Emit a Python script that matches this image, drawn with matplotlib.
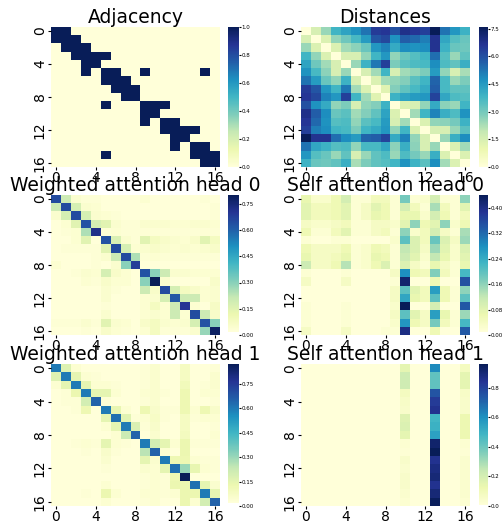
import numpy as np
import matplotlib
matplotlib.use('Agg')
import matplotlib.pyplot as plt
import seaborn as sns

n_atoms = 17
tick_labels = [0, 4, 8, 12, 16]

# bonds (diagonal is 1 as well)
bonds = [(0, 1), (1, 2), (2, 3), (3, 4), (3, 5), (5, 6), (5, 9), (5, 15), (6, 7),
         (7, 8), (9, 10), (9, 11), (11, 12), (12, 13), (12, 14), (14, 15), (15, 16)]

distances = [
    [0.0, 1.5, 2.5, 3.8, 4.3, 4.7, 5.3, 6.5, 6.6, 6.0, 6.8, 6.6, 6.4, 7.6, 5.3, 4.6, 3.9],
    [1.5, 0.0, 1.4, 2.6, 3.1, 3.7, 4.5, 5.9, 6.2, 4.7, 5.7, 5.5, 5.1, 6.7, 4.2, 3.5, 3.2],
    [2.5, 1.4, 0.0, 1.4, 2.4, 2.7, 3.2, 4.6, 5.0, 4.1, 4.8, 4.7, 4.8, 6.7, 3.9, 3.2, 3.1],
    [3.8, 2.6, 1.4, 0.0, 1.5, 1.5, 2.6, 3.8, 4.6, 2.6, 3.2, 3.5, 3.8, 5.4, 3.5, 2.5, 3.3],
    [4.3, 3.1, 2.4, 1.5, 0.0, 2.5, 3.9, 5.2, 6.4, 2.9, 3.4, 3.6, 3.7, 4.8, 3.6, 3.3, 4.0],
    [4.7, 3.7, 2.7, 1.5, 2.5, 0.0, 1.5, 2.4, 3.8, 1.5, 2.4, 2.6, 2.9, 4.5, 2.6, 1.5, 2.3],
    [5.3, 4.5, 3.2, 2.6, 3.9, 1.5, 0.0, 1.4, 2.4, 2.6, 2.8, 3.4, 3.8, 5.6, 3.7, 2.5, 2.9],
    [6.5, 5.9, 4.6, 3.8, 5.2, 2.4, 1.4, 0.0, 1.3, 2.8, 3.3, 3.7, 4.1, 5.7, 3.7, 3.3, 3.3],
    [6.6, 6.2, 5.0, 4.6, 6.4, 3.8, 2.4, 1.3, 0.0, 3.9, 4.3, 4.5, 4.6, 6.3, 4.2, 3.6, 3.5],
    [6.0, 4.7, 4.1, 2.6, 2.9, 1.5, 2.6, 2.8, 3.9, 0.0, 1.4, 1.5, 2.6, 4.1, 2.7, 2.5, 3.8],
    [6.8, 5.7, 4.8, 3.2, 3.4, 2.4, 2.8, 3.3, 4.3, 1.4, 0.0, 2.4, 3.8, 5.0, 4.0, 3.6, 4.7],
    [6.6, 5.5, 4.7, 3.5, 3.6, 2.6, 3.4, 3.7, 4.5, 1.5, 2.4, 0.0, 1.4, 2.6, 2.7, 3.0, 3.9],
    [6.4, 5.1, 4.8, 3.8, 3.7, 2.9, 3.8, 4.1, 4.6, 2.6, 3.8, 1.4, 0.0, 1.5, 1.5, 2.5, 3.4],
    [7.6, 6.7, 6.7, 5.4, 4.8, 4.5, 5.6, 5.7, 6.3, 4.1, 5.0, 2.6, 1.5, 0.0, 2.5, 4.0, 4.8],
    [5.3, 4.2, 3.9, 3.5, 3.6, 2.6, 3.7, 3.7, 4.2, 2.7, 4.0, 2.7, 1.5, 2.5, 0.0, 1.4, 2.4],
    [4.6, 3.5, 3.2, 2.5, 3.3, 1.5, 2.5, 3.3, 3.6, 2.5, 3.6, 3.0, 2.5, 4.0, 1.4, 0.0, 1.4],
    [3.9, 3.2, 3.1, 3.3, 4.0, 2.3, 2.9, 3.3, 3.5, 3.8, 4.7, 3.9, 3.4, 4.8, 2.4, 1.4, 0.0],
]

weighted_head0 = [
    [.65, .20, .05, .03, .03, .02, .02, .02, .02, .04, .02, .02, .02, .02, .02, .03, .02],
    [.20, .65, .18, .05, .04, .02, .02, .02, .02, .02, .02, .02, .02, .02, .02, .02, .03],
    [.05, .18, .65, .18, .05, .04, .03, .02, .02, .02, .02, .02, .02, .02, .02, .02, .03],
    [.02, .04, .15, .63, .18, .15, .05, .03, .03, .05, .05, .05, .04, .04, .05, .05, .04],
    [.02, .03, .04, .25, .72, .03, .04, .03, .03, .03, .03, .03, .03, .03, .03, .03, .03],
    [.02, .02, .04, .15, .02, .63, .17, .05, .03, .15, .08, .06, .05, .04, .06, .15, .08],
    [.02, .03, .03, .03, .03, .15, .65, .18, .04, .05, .06, .05, .04, .05, .04, .05, .06],
    [.02, .02, .02, .02, .03, .05, .20, .65, .25, .03, .04, .03, .03, .03, .03, .03, .03],
    [.04, .02, .02, .02, .03, .02, .05, .30, .68, .02, .02, .02, .02, .02, .02, .02, .02],
    [.02, .02, .03, .05, .04, .18, .06, .04, .02, .63, .30, .20, .05, .05, .04, .04, .04],
    [.02, .02, .02, .04, .03, .06, .04, .04, .02, .30, .80, .05, .02, .02, .02, .02, .06],
    [.02, .02, .02, .02, .02, .05, .03, .02, .02, .20, .06, .65, .18, .08, .06, .04, .05],
    [.02, .02, .02, .02, .02, .05, .02, .02, .02, .04, .05, .18, .62, .20, .20, .04, .05],
    [.02, .02, .02, .02, .02, .03, .02, .02, .02, .04, .08, .04, .20, .70, .04, .02, .07],
    [.02, .02, .02, .02, .02, .05, .02, .02, .02, .04, .05, .04, .20, .04, .65, .20, .06],
    [.03, .03, .03, .05, .03, .15, .05, .04, .02, .06, .08, .05, .04, .05, .18, .63, .30],
    [.02, .02, .02, .03, .02, .06, .04, .03, .02, .04, .08, .03, .03, .03, .05, .28, .78],
]

self_head0 = [
    [.07, .03, .03, .06, .10, .02, .02, .05, .05, .02, .18, .02, .03, .10, .02, .02, .16],
    [.08, .05, .05, .06, .08, .02, .04, .08, .06, .02, .10, .05, .02, .14, .05, .02, .08],
    [.08, .05, .05, .06, .08, .02, .04, .07, .06, .02, .07, .07, .03, .10, .06, .02, .05],
    [.04, .03, .03, .04, .05, .02, .02, .04, .04, .03, .08, .16, .06, .08, .16, .03, .06],
    [.06, .02, .02, .05, .08, .02, .02, .04, .05, .02, .16, .03, .05, .10, .04, .02, .14],
    [.02, .01, .01, .02, .02, .01, .01, .01, .01, .03, .20, .09, .05, .19, .09, .04, .15],
    [.06, .04, .04, .04, .06, .02, .03, .06, .05, .02, .12, .09, .04, .15, .08, .03, .09],
    [.07, .04, .04, .05, .07, .02, .03, .07, .06, .02, .11, .08, .03, .12, .07, .03, .08],
    [.11, .04, .04, .06, .13, .02, .03, .06, .09, .02, .09, .04, .02, .07, .04, .02, .07],
    [.02, .01, .01, .01, .02, .01, .01, .01, .01, .04, .28, .06, .05, .17, .05, .02, .22],
    [.04, .01, .01, .01, .04, .01, .01, .01, .01, .02, .42, .01, .01, .06, .01, .01, .35],
    [.01, .01, .01, .01, .01, .01, .01, .01, .01, .04, .20, .08, .05, .26, .06, .02, .16],
    [.01, .01, .01, .01, .01, .01, .01, .01, .01, .04, .25, .07, .05, .20, .06, .02, .20],
    [.02, .01, .01, .01, .02, .01, .01, .01, .01, .03, .44, .01, .01, .10, .01, .01, .34],
    [.02, .01, .01, .01, .02, .01, .01, .01, .01, .04, .20, .08, .04, .26, .07, .02, .15],
    [.02, .01, .01, .01, .02, .01, .01, .01, .01, .03, .27, .06, .04, .18, .05, .02, .22],
    [.04, .01, .01, .01, .04, .01, .01, .01, .02, .02, .40, .01, .01, .06, .01, .01, .34],
]

weighted_head1 = [
    [.60, .17, .04, .02, .02, .02, .02, .02, .02, .03, .05, .02, .02, .08, .02, .02, .03],
    [.17, .60, .15, .04, .03, .02, .02, .02, .02, .03, .05, .02, .02, .08, .02, .02, .05],
    [.04, .15, .60, .15, .04, .04, .03, .02, .02, .03, .05, .02, .02, .10, .02, .03, .05],
    [.02, .03, .13, .60, .15, .15, .04, .02, .02, .04, .05, .03, .02, .12, .02, .04, .04],
    [.02, .03, .03, .20, .65, .03, .02, .02, .02, .03, .05, .02, .02, .12, .02, .02, .03],
    [.02, .02, .03, .12, .02, .60, .14, .04, .02, .12, .06, .03, .03, .12, .04, .12, .06],
    [.02, .02, .02, .02, .02, .15, .62, .16, .03, .04, .07, .03, .02, .08, .03, .04, .04],
    [.02, .02, .02, .02, .02, .04, .15, .60, .18, .03, .06, .02, .02, .08, .02, .02, .03],
    [.02, .02, .02, .02, .02, .02, .04, .22, .65, .02, .05, .02, .02, .09, .02, .02, .04],
    [.02, .02, .03, .04, .03, .15, .04, .03, .02, .60, .20, .15, .04, .13, .03, .03, .03],
    [.02, .02, .02, .03, .02, .06, .03, .02, .02, .25, .65, .04, .02, .13, .02, .02, .02],
    [.02, .02, .02, .02, .02, .05, .02, .02, .02, .15, .05, .60, .12, .12, .04, .03, .03],
    [.02, .02, .02, .02, .02, .03, .02, .02, .02, .05, .04, .15, .62, .30, .14, .04, .03],
    [.02, .02, .02, .02, .02, .02, .02, .02, .02, .03, .04, .03, .12, .87, .02, .02, .02],
    [.02, .02, .02, .02, .02, .04, .02, .02, .02, .03, .04, .03, .13, .13, .62, .15, .05],
    [.02, .02, .02, .03, .02, .13, .04, .02, .02, .04, .04, .03, .04, .13, .13, .60, .15],
    [.02, .02, .02, .02, .02, .04, .02, .02, .02, .03, .04, .02, .02, .13, .04, .20, .65],
]

# head 1 self attention only lands on atoms 10, 13 and 16
self_head1_col10 = [.15, .22, .22, .08, .06, .05, .17, .18, .15, .03, .02, .05, .04, .05, .05, .04, .03]
self_head1_col13 = [.62, .42, .42, .75, .82, .85, .48, .50, .55, .92, .96, .85, .88, .90, .85, .90, .95]
self_head1_col16 = [.08, .15, .15, .06, .05, .05, .12, .12, .12, .03, .02, .04, .04, .04, .04, .04, .03]

adjacency = np.eye(n_atoms)
for i, j in bonds:
    adjacency[i, j] = 1
    adjacency[j, i] = 1

self_head1 = np.full((n_atoms, n_atoms), 0.004)
self_head1[:, 10] = self_head1_col10
self_head1[:, 13] = self_head1_col13
self_head1[:, 16] = self_head1_col16

panels = [
    ('Adjacency', adjacency, [0, .2, .4, .6, .8, 1.0], '%.1f'),
    ('Distances', np.array(distances), [0, 1.5, 3.0, 4.5, 6.0, 7.5], '%.1f'),
    ('Weighted attention head 0', np.array(weighted_head0), [0, .15, .30, .45, .60, .75], '%.2f'),
    ('Self attention head 0', np.array(self_head0), [0, .08, .16, .24, .32, .40], '%.2f'),
    ('Weighted attention head 1', np.array(weighted_head1), [0, .15, .30, .45, .60, .75], '%.2f'),
    ('Self attention head 1', self_head1, [0, .2, .4, .6, .8], '%.1f'),
]

W, H = 503, 523
fig = plt.figure(figsize=(W / 100, H / 100), dpi=100)

col_x = [51, 301]
cbar_x = [228, 479]
cbar_w = [11, 9]
row_y = [(27, 167), (195, 335), (364, 506)]

for k, (title, mat, cticks, fmt) in enumerate(panels):
    r, c = divmod(k, 2)
    top, bot = row_y[r]
    ax = fig.add_axes([col_x[c] / W, 1 - bot / H, 169 / W, (bot - top) / H])
    cax = fig.add_axes([cbar_x[c] / W, 1 - bot / H, cbar_w[c] / W, (bot - top) / H])
    sns.heatmap(mat, ax=ax, cbar_ax=cax, cmap='YlGnBu', xticklabels=4, yticklabels=4)
    ax.set_xticklabels(tick_labels, rotation=0, fontsize=10)
    ax.set_yticklabels(tick_labels, rotation=90, va='center', fontsize=10)
    ax.tick_params(axis='both', length=2, pad=1)
    ax.set_title(title, fontsize=13.5, pad=3)
    cax.set_yticks(cticks)
    cax.set_yticklabels([fmt % t for t in cticks])
    cax.tick_params(labelsize=4, length=1.5, pad=0.5)

fig.savefig('out.png', dpi=100)
